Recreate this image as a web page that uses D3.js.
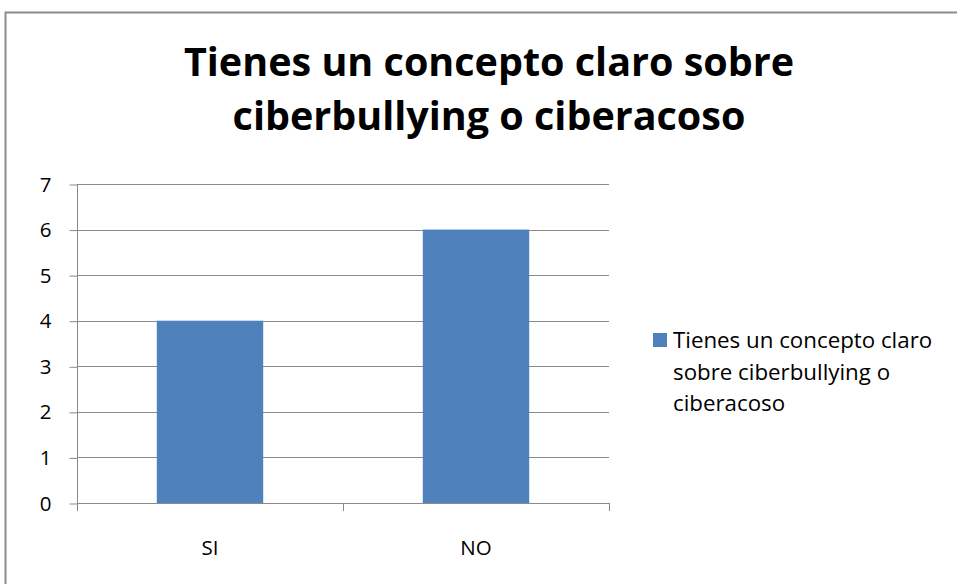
<!DOCTYPE html>
<html>
<head>
<meta charset="utf-8">
<script src="https://cdn.jsdelivr.net/npm/d3@7"></script>
<style>
  body { margin: 0; background: #fff; }
  text { font-family: "Open Sans", Lato, sans-serif; fill: #000; }
</style>
</head>
<body>
<svg id="chart"></svg>
<script>
// data
const categories = ["SI", "NO"];
const values = [4, 6];
const yTicks = [0, 1, 2, 3, 4, 5, 6, 7];
const titleLines = ["Tienes un concepto claro sobre", "ciberbullying o ciberacoso"];
const legendLines = ["Tienes un concepto claro", "sobre ciberbullying o", "ciberacoso"];

const width = 957, height = 584;
const plotLeft = 77, plotRight = 609, plotTop = 184, plotBottom = 503;
const barColor = "#4f81bd";
const gridColor = "#8a8a8a";
const font = "'Open Sans', Lato, sans-serif";

const svg = d3.select("#chart")
	.attr("width", width)
	.attr("height", height);

// outer frame (only top and left edges are inside the view)
svg.append("rect")
	.attr("x", 5.5).attr("y", 12.5)
	.attr("width", 1000).attr("height", 1000)
	.attr("fill", "#fff")
	.attr("stroke", "#8c8c8c")
	.attr("stroke-width", 2);

let x_scale = d3.scaleBand()
	.domain(categories)
	.range([plotLeft, plotRight])
	.paddingInner(0).paddingOuter(0);

let y_scale = d3.scaleLinear()
	.domain([0, 7])
	.range([plotBottom, plotTop]);

// gridlines
svg.selectAll(".grid")
	.data(yTicks.filter(d => d > 0)).enter()
	.append("line")
	.attr("class", "grid")
	.attr("x1", plotLeft).attr("x2", plotRight)
	.attr("y1", d => Math.round(y_scale(d)) + 0.5)
	.attr("y2", d => Math.round(y_scale(d)) + 0.5)
	.attr("stroke", gridColor)
	.attr("stroke-width", 1);

// bars
const barW = x_scale.bandwidth() * 0.4;
svg.selectAll(".bar")
	.data(values).enter()
	.append("rect")
	.attr("class", "bar")
	.attr("x", (d, i) => x_scale(categories[i]) + (x_scale.bandwidth() - barW) / 2)
	.attr("width", barW)
	.attr("y", d => y_scale(d))
	.attr("height", d => plotBottom - y_scale(d))
	.attr("fill", barColor);

// y axis
let y_axis = d3.axisLeft(y_scale)
	.tickValues(yTicks)
	.tickFormat(d3.format("d"))
	.tickSize(8).tickPadding(18);
let gy = svg.append("g")
	.attr("transform", `translate(${plotLeft + 0.5},0.5)`)
	.call(y_axis);
gy.select(".domain").attr("stroke", gridColor).attr("d", `M0,${plotTop}V${plotBottom}`);
gy.selectAll(".tick line").attr("stroke", gridColor);
gy.selectAll(".tick text")
	.style("font-size", "20.5px")
	.style("font-family", font)
	.attr("fill", "#000");

// x axis: line + ticks at category boundaries
svg.append("line")
	.attr("x1", plotLeft).attr("x2", plotRight)
	.attr("y1", plotBottom + 0.5).attr("y2", plotBottom + 0.5)
	.attr("stroke", gridColor);
const boundaries = categories.map(c => x_scale(c)).concat([plotRight]);
svg.selectAll(".xtick")
	.data(boundaries).enter()
	.append("line")
	.attr("class", "xtick")
	.attr("x1", d => Math.round(d) + 0.5).attr("x2", d => Math.round(d) + 0.5)
	.attr("y1", plotBottom).attr("y2", plotBottom + 8)
	.attr("stroke", gridColor);
svg.selectAll(".xlabel")
	.data(categories).enter()
	.append("text")
	.attr("class", "xlabel")
	.attr("x", d => x_scale(d) + x_scale.bandwidth() / 2)
	.attr("y", 555)
	.attr("text-anchor", "middle")
	.style("font-size", "20.5px")
	.text(d => d);

// title
svg.selectAll(".title")
	.data(titleLines).enter()
	.append("text")
	.attr("class", "title")
	.attr("x", 489)
	.attr("y", (d, i) => 76 + i * 54)
	.attr("text-anchor", "middle")
	.style("font-size", "39.5px")
	.style("font-weight", "bold")
	.text(d => d);

// legend
svg.append("rect")
	.attr("x", 653).attr("y", 333)
	.attr("width", 14).attr("height", 14)
	.attr("fill", barColor);
svg.selectAll(".legend")
	.data(legendLines).enter()
	.append("text")
	.attr("class", "legend")
	.attr("x", 673)
	.attr("y", (d, i) => 348 + i * 31.5)
	.style("font-size", "22.3px")
	.attr("fill", "#1a1a1a")
	.text(d => d);
</script>
</body>
</html>
